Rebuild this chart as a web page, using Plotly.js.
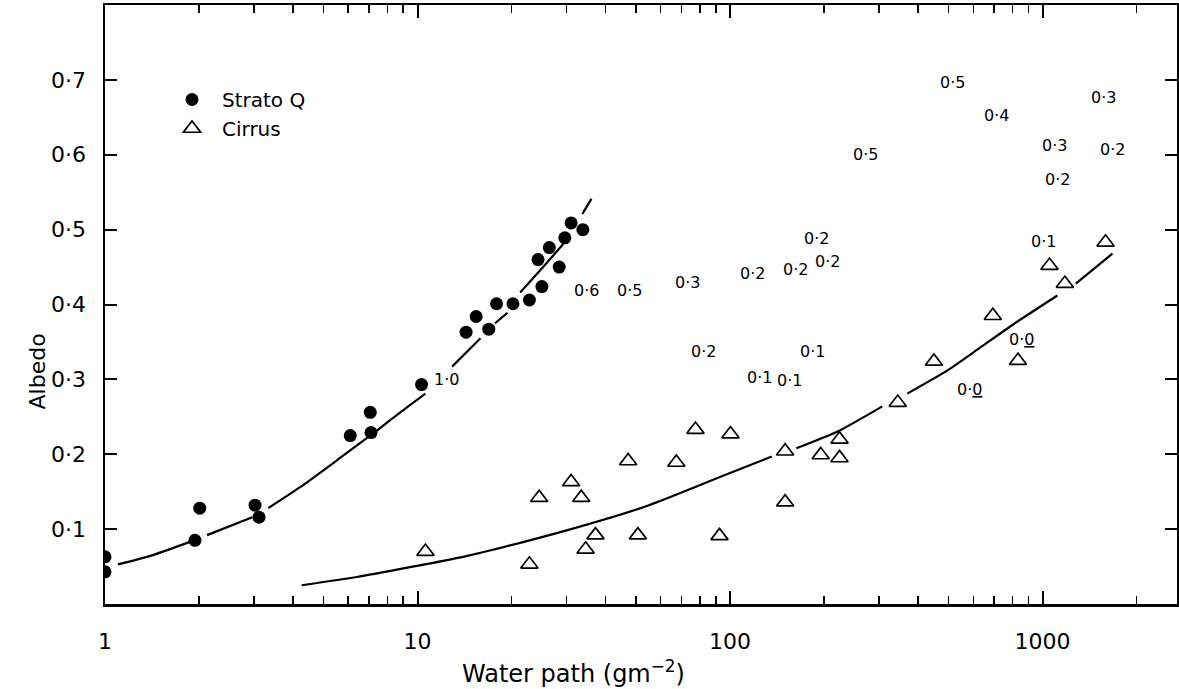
<!DOCTYPE html>
<html>
<head>
<meta charset="utf-8">
<script src="https://cdn.plot.ly/plotly-3.0.1.min.js"></script>
<style>html,body{margin:0;padding:0;background:#fff;}#chart{width:1179px;height:689px;}</style>
</head>
<body>
<div id="chart"></div>
<script>
// Strato Q measurements (filled circles)
const stratoX = [1, 1, 1.94, 2.01, 3.02, 3.11, 6.09, 7.06, 7.1, 10.3, 14.3, 15.4, 16.9, 17.9, 20.2, 22.8, 25.0, 24.3, 26.4, 28.4, 29.6, 31.0, 33.8];
const stratoY = [0.063, 0.043, 0.085, 0.128, 0.132, 0.116, 0.225, 0.256, 0.229, 0.293, 0.363, 0.384, 0.367, 0.401, 0.401, 0.406, 0.424, 0.460, 0.476, 0.450, 0.489, 0.509, 0.500];

// Cirrus measurements (open triangles)
const cirrusX = [10.6, 22.8, 24.5, 31.0, 33.4, 34.5, 37.1, 47.2, 50.7, 67.3, 77.5, 92.5, 100.3, 150, 150, 195, 224, 224, 344, 449, 693, 834, 1052, 1178, 1590];
const cirrusY = [0.070, 0.053, 0.142, 0.163, 0.142, 0.073, 0.092, 0.191, 0.092, 0.189, 0.233, 0.091, 0.227, 0.204, 0.136, 0.199, 0.220, 0.195, 0.269, 0.324, 0.385, 0.325, 0.452, 0.428, 0.483];

// Fitted curves as drawn (null = break in the drawn line)
const stratoCurveX = [1.10, 1.39, 1.87, null, 2.12, 2.96, null, 3.33, 4.21, 5.65, 7.43, 8.81, 10.6, null, 12.9, 15.9, null, 17.7, 19.4, null, 21.3, 25.1, 29.3, null, 33.7, 36.0];
const stratoCurveY = [0.053, 0.064, 0.083, null, 0.092, 0.116, null, 0.128, 0.156, 0.195, 0.232, 0.256, 0.281, null, 0.317, 0.355, null, 0.375, 0.389, null, 0.416, 0.449, 0.481, null, 0.521, 0.541];
const cirrusCurveX = [4.26, 6.40, 9.96, 14.0, 21.9, 31.6, 51.7, 64.4, 93.2, 136, null, 163, 220, 307, null, 369, 496, 634, 809, 1115, null, 1277, 1673];
const cirrusCurveY = [0.025, 0.036, 0.051, 0.063, 0.083, 0.101, 0.128, 0.143, 0.170, 0.197, null, 0.208, 0.230, 0.264, null, 0.281, 0.312, 0.343, 0.374, 0.412, null, 0.428, 0.468];

// Numeric annotations on the chart
const labelX = [12.4, 34.7, 47.6, 73.1, 118, 162, 205, 189, 82.2, 124, 155, 184, 857, 584, 271, 515, 713, 1570, 1093, 1676, 1117, 1008];
const labelY = [0.300, 0.419, 0.419, 0.429, 0.441, 0.447, 0.457, 0.488, 0.337, 0.303, 0.299, 0.337, 0.353, 0.287, 0.601, 0.696, 0.653, 0.676, 0.613, 0.607, 0.567, 0.484];
const labelText = ['1·0', '0·6', '0·5', '0·3', '0·2', '0·2', '0·2', '0·2', '0·2', '0·1', '0·1', '0·1', '0·<u>0</u>', '0·<u>0</u>', '0·5', '0·5', '0·4', '0·3', '0·3', '0·2', '0·2', '0·1'];

// Axis ticks
const xTickVals = [1, 10, 100, 1000];
const xTickText = ['1', '10', '100', '1000'];
const xMinorVals = [2,3,4,5,6,7,8,9,20,30,40,50,60,70,80,90,200,300,400,500,600,700,800,900,2000];
const yTickVals = [0.1, 0.2, 0.3, 0.4, 0.5, 0.6, 0.7];
const yTickText = ['0·1', '0·2', '0·3', '0·4', '0·5', '0·6', '0·7'];

const FONT = '"DejaVu Sans", sans-serif';

const traces = [
  {x: stratoCurveX, y: stratoCurveY, mode: 'lines', line: {color: '#000', width: 2.2, shape: 'spline', smoothing: 0.6}, showlegend: false, hoverinfo: 'skip'},
  {x: cirrusCurveX, y: cirrusCurveY, mode: 'lines', line: {color: '#000', width: 2.2, shape: 'spline', smoothing: 0.6}, showlegend: false, hoverinfo: 'skip'},
  {x: stratoX, y: stratoY, mode: 'markers', name: '\u2002Strato Q', marker: {symbol: 'circle', size: 13, color: '#000'}},
  {x: cirrusX, y: cirrusY, mode: 'markers', name: '\u2002Cirrus', marker: {symbol: 'triangle-up-open', size: 15, color: '#000', line: {width: 1.7, color: '#000'}}}
];

const annotations = labelText.map((t, i) => ({
  x: Math.log10(labelX[i]), y: labelY[i], xref: 'x', yref: 'y', text: t, showarrow: false,
  font: {family: FONT, size: 16, color: '#000'}
}));
annotations.push({xref: 'paper', yref: 'paper', x: (573-105)/1072, y: -0.113, yanchor: 'middle', text: 'Water path (gm<sup>−2</sup>)', showarrow: false, font: {family: FONT, size: 24, color: '#000'}});
annotations.push({xref: 'paper', yref: 'paper', x: (22-105)/1072, y: (604-372)/599, textangle: -90, text: 'Albedo', showarrow: false, font: {family: FONT, size: 22, color: '#000'}});

const layout = {
  width: 1179, height: 689,
  margin: {l: 105, r: 2, t: 5, b: 85},
  paper_bgcolor: '#fff', plot_bgcolor: '#fff',
  font: {family: FONT, color: '#000', size: 20},
  showlegend: true,
  legend: {x: (172-105)/1072, y: (604-80)/599, xanchor: 'left', yanchor: 'top', bgcolor: 'rgba(0,0,0,0)', font: {family: FONT, size: 20}, itemwidth: 30, tracegroupgap: 0},
  xaxis: {
    type: 'log', range: [0, 3.43], showline: true, linewidth: 2.5, linecolor: '#000', mirror: 'ticks',
    ticks: 'inside', ticklen: 13, tickwidth: 2, tickcolor: '#000',
    tickvals: xTickVals, ticktext: xTickText, ticklabelstandoff: 16,
    minor: {tickvals: xMinorVals, ticks: 'inside', ticklen: 8, tickwidth: 1.5, tickcolor: '#000', showgrid: false},
    showgrid: false, zeroline: false, tickfont: {family: FONT, size: 22}
  },
  yaxis: {
    range: [0, 0.8], showline: true, linewidth: 2.5, linecolor: '#000', mirror: 'ticks',
    ticks: 'inside', ticklen: 12, tickwidth: 2, tickcolor: '#000',
    tickvals: yTickVals, ticktext: yTickText, ticklabelstandoff: 12,
    showgrid: false, zeroline: false, tickfont: {family: FONT, size: 22}
  },
  annotations: annotations
};

Plotly.newPlot('chart', traces, layout, {displayModeBar: false, staticPlot: true});
</script>
</body>
</html>
